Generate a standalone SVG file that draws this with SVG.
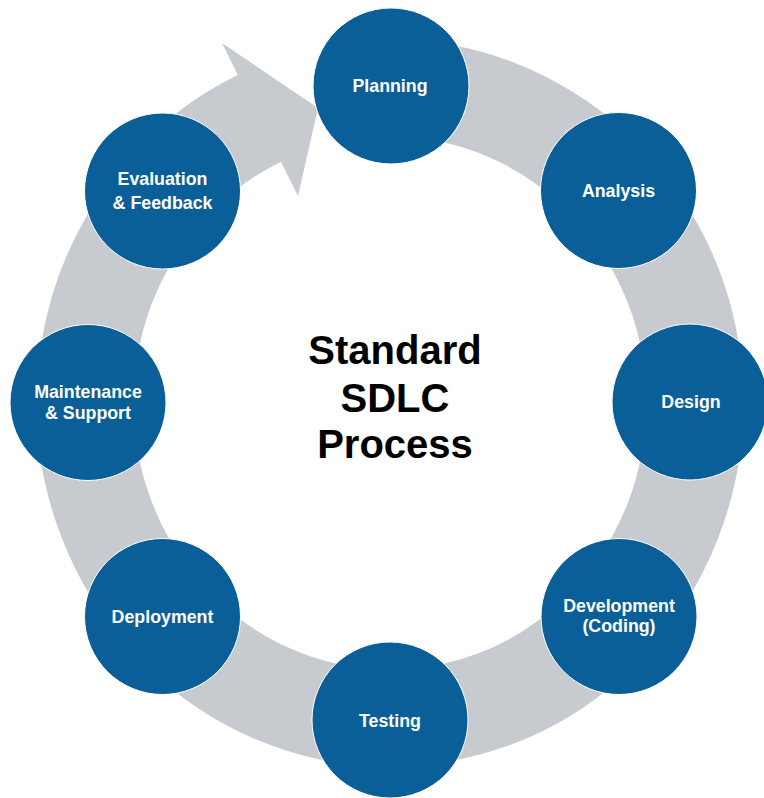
<svg xmlns="http://www.w3.org/2000/svg" width="764" height="798" viewBox="0 0 764 798">
  <style>
    .stage circle { fill: #0b5f98; stroke: #ffffff; stroke-width: 1; }
    .stage text { font-family: "Liberation Sans", Arial, sans-serif; font-weight: bold; font-size: 17.8px; fill: #ffffff; text-anchor: middle; }
    .title { font-family: "Liberation Sans", Arial, sans-serif; font-weight: bold; font-size: 40px; fill: #000000; text-anchor: middle; }
    .band { fill: none; stroke: #c7cacf; stroke-width: 97; stroke-linecap: butt; }
    .head { fill: #c7cacf; }
  </style>
  <rect width="764" height="798" fill="#ffffff"/>

  <!-- cycle band: clockwise from Planning round to the arrowhead -->
  <g id="connectors">
    <path class="band" d="M 390 88 A 305 315 0 1 1 261.1 117.5"/>
    <polygon class="head" points="222,43 318,108 298,196"/>
  </g>

  <g id="title">
    <text class="title" x="395" y="364">Standard</text>
    <text class="title" x="395" y="412">SDLC</text>
    <text class="title" x="395" y="458">Process</text>
  </g>

  <g id="planning" class="stage">
    <circle cx="391" cy="86" r="78"/>
    <text x="390" y="92">Planning</text>
  </g>
  <g id="analysis" class="stage">
    <circle cx="618.5" cy="190.5" r="78"/>
    <text x="618.5" y="197">Analysis</text>
  </g>
  <g id="design" class="stage">
    <circle cx="690" cy="402" r="78"/>
    <text x="691" y="408">Design</text>
  </g>
  <g id="development" class="stage">
    <circle cx="619" cy="616.5" r="78"/>
    <text x="619" y="611.5">Development</text>
    <text x="619" y="632">(Coding)</text>
  </g>
  <g id="testing" class="stage">
    <circle cx="390" cy="720" r="78"/>
    <text x="390" y="726.5">Testing</text>
  </g>
  <g id="deployment" class="stage">
    <circle cx="162.5" cy="616.5" r="78"/>
    <text x="162.5" y="623">Deployment</text>
  </g>
  <g id="maintenance" class="stage">
    <circle cx="88" cy="402.5" r="78"/>
    <text x="88" y="398">Maintenance</text>
    <text x="88" y="419">&amp; Support</text>
  </g>
  <g id="evaluation" class="stage">
    <circle cx="162.5" cy="191" r="78"/>
    <text x="162.5" y="185">Evaluation</text>
    <text x="162.5" y="208.5">&amp; Feedback</text>
  </g>
</svg>
